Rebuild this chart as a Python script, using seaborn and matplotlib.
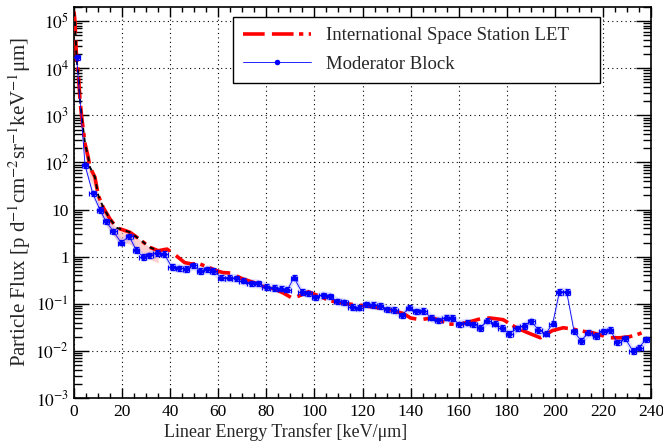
import numpy as np
import pandas as pd
import matplotlib
matplotlib.use("Agg")
import matplotlib.pyplot as plt
import matplotlib.ticker as mticker
import seaborn as sns

# ISS LET reference curve
iss_x = [0.0, 0.4, 1.1, 1.8, 2.5, 3.2, 4.6, 5.9, 6.6, 8.7, 10.1, 12.2, 15, 17.8, 20.5, 23.3,
         27.5, 31.6, 35, 38.7, 42, 46, 49, 52, 55, 59.5, 62, 65, 70, 75, 80, 83, 87, 91, 94,
         97.5, 100, 106.5, 113.5, 119, 124, 128, 133, 137, 140, 144, 149, 152, 156, 160.5,
         165, 169, 173, 178.5, 184, 189, 194, 199, 203.5, 207.5, 212, 216, 223, 227, 231,
         234, 236, 238]
iss_y = [1.6e5, 1.0e5, 1.5e4, 7.7e3, 2.1e3, 920, 250, 130, 80, 49, 20, 11, 6.3, 4.1, 3.7, 3.3,
         2.3, 1.58, 1.34, 1.45, 1.1, 0.75, 0.70, 0.71, 0.62, 0.50, 0.46, 0.45, 0.34, 0.28, 0.22,
         0.21, 0.17, 0.13, 0.15, 0.18, 0.16, 0.116, 0.10, 0.093, 0.086, 0.08, 0.071, 0.062,
         0.05, 0.046, 0.05, 0.045, 0.037, 0.037, 0.042, 0.048, 0.05, 0.046, 0.031, 0.024,
         0.019, 0.027, 0.031, 0.029, 0.026, 0.024, 0.019, 0.019, 0.020, 0.022, 0.024, 0.026]

# Moderator block measurement
mod_x = [1.1, 4.6, 7.8, 10.8, 13.3, 16.3, 19.6, 23, 25.8, 28.6, 31.4, 34.4, 37.5, 40.6, 43.8,
         46.6, 49.6, 52.4, 55.5, 58, 61.3, 64.3, 67.3, 70.2, 73.5, 76.5, 79.8, 83, 86.2, 88.8,
         91.5, 94.7, 97.5, 100.2, 103.4, 106.5, 109.5, 112.4, 115.5, 118.6, 121.5, 124.5,
         127.3, 130.3, 133.2, 136.4, 139.3, 142.3, 145.3, 148.5, 151.5, 154.6, 157.1, 160.3,
         163.3, 166.1, 168.9, 171.9, 175.1, 177.9, 181.1, 184.2, 187.1, 190.2, 193.1, 196.3,
         199.1, 201.9, 204.9, 208, 210.9, 213.9, 217.1, 219.9, 223, 226, 229.2, 232.4, 235.1,
         237.9]
mod_y = [1.7e4, 87, 22, 9.9, 5.6, 3.5, 2.0, 2.7, 1.4, 1.0, 1.08, 1.2, 1.15, 0.61, 0.57, 0.55,
         0.66, 0.50, 0.54, 0.50, 0.36, 0.36, 0.35, 0.31, 0.275, 0.27, 0.23, 0.22, 0.21, 0.20,
         0.36, 0.18, 0.167, 0.137, 0.153, 0.144, 0.112, 0.107, 0.086, 0.083, 0.098, 0.095,
         0.091, 0.077, 0.074, 0.057, 0.083, 0.069, 0.071, 0.051, 0.045, 0.051, 0.050, 0.037,
         0.040, 0.037, 0.031, 0.044, 0.038, 0.031, 0.023, 0.030, 0.034, 0.043, 0.028, 0.0234,
         0.038, 0.18, 0.18, 0.026, 0.0163, 0.0245, 0.021, 0.026, 0.028, 0.0151, 0.0187, 0.0100,
         0.0118, 0.0177]

iss = pd.DataFrame({"x": iss_x, "y": iss_y})
mod = pd.DataFrame({"x": mod_x, "y": mod_y})

sns.set_theme(style="ticks")
plt.rcParams["font.family"] = ["Liberation Serif", "DejaVu Serif"]
plt.rcParams["mathtext.fontset"] = "stix"

fig = plt.figure(figsize=(6.63, 4.44), dpi=100)
ax = fig.add_axes([74 / 663, 46 / 444, 577 / 663, 391 / 444])

# pink uncertainty band on the ISS curve at low LET
low = iss[iss["x"] <= 36]
ax.fill_between(low["x"], low["y"] * 0.55, low["y"], color="#ffb3b3", alpha=0.6,
                linewidth=0, zorder=1)

# light blue systematic band on the measurement
ax.fill_between(mod["x"], mod["y"] * 0.8, mod["y"] * 1.25, color="#9a9aff", alpha=0.3,
                linewidth=0, zorder=2)

# ISS curve
sns.lineplot(data=iss, x="x", y="y", ax=ax, color="red", linewidth=2.6,
             dashes=False, estimator=None, sort=False, zorder=4,
             label="International Space Station LET")
ax.lines[-1].set_dashes([6, 2, 6, 1.5, 1.2, 1.5])
# black dashed overlay at low LET
sns.lineplot(data=low, x="x", y="y", ax=ax, color="black", linewidth=1.4,
             estimator=None, sort=False, zorder=5, legend=False)
ax.lines[-1].set_dashes([2.5, 2.5])

# measurement
ax.errorbar(mod["x"], mod["y"], xerr=1.4, yerr=mod["y"] * 0.13, fmt="none",
            ecolor="blue", elinewidth=0.9, capsize=1.8, capthick=0.9, zorder=6)
sns.lineplot(data=mod, x="x", y="y", ax=ax, color="blue", linewidth=0.6,
             marker="o", markersize=4, markeredgewidth=0, estimator=None, sort=False,
             zorder=7, label="Moderator Block")

ax.set_yscale("log")
ax.set_xlim(0, 240)
ax.set_ylim(1e-3, 2e5)

ax.xaxis.set_major_locator(mticker.MultipleLocator(20))
ax.xaxis.set_minor_locator(mticker.MultipleLocator(5))
ax.yaxis.set_major_locator(mticker.LogLocator(base=10, numticks=20))
ax.yaxis.set_minor_locator(mticker.LogLocator(base=10, subs=np.arange(2, 10), numticks=20))
ax.yaxis.set_minor_formatter(mticker.NullFormatter())


def yfmt(v, pos):
    e = int(round(np.log10(v)))
    if e == 0:
        return "1"
    if e == 1:
        return "10"
    return r"$10^{%d}$" % e


ax.yaxis.set_major_formatter(mticker.FuncFormatter(yfmt))

ax.tick_params(axis="both", which="both", direction="in", top=True, right=True,
               colors="black", labelsize=12.5)
ax.tick_params(axis="y", which="major", length=11, width=1.0)
ax.tick_params(axis="y", which="minor", length=5.5, width=1.0)
ax.tick_params(axis="x", which="major", length=7, width=1.0)
ax.tick_params(axis="x", which="minor", length=3.5, width=1.0)
ax.tick_params(axis="x", pad=4)

ax.grid(True, which="major", color="black", linestyle=(0, (1, 3)), linewidth=0.8)
for s in ax.spines.values():
    s.set_linewidth(1.2)
    s.set_color("black")

ax.set_xlabel("Linear Energy Transfer [keV/\u03bcm]", fontsize=13)
ax.xaxis.set_label_coords(0.366, -0.064)
ax.set_ylabel("Particle Flux [p d$^{-1}$cm$^{-2}$sr$^{-1}$keV$^{-1}$\u03bcm]", fontsize=15,
              labelpad=2)

leg_h = 0.2
leg = ax.legend(loc="upper left",
                bbox_to_anchor=(159 / 577, 1 - 10 / 391 - leg_h, 367 / 577, leg_h),
                mode="expand", fontsize=13.5,
                frameon=True, fancybox=False, edgecolor="black", framealpha=1,
                borderpad=0.55, labelspacing=0.6, handlelength=3.6, handletextpad=0.8,
                borderaxespad=0)
leg.get_frame().set_linewidth(1.0)
leg.set_zorder(10)

fig.savefig("out.png", dpi=100)
